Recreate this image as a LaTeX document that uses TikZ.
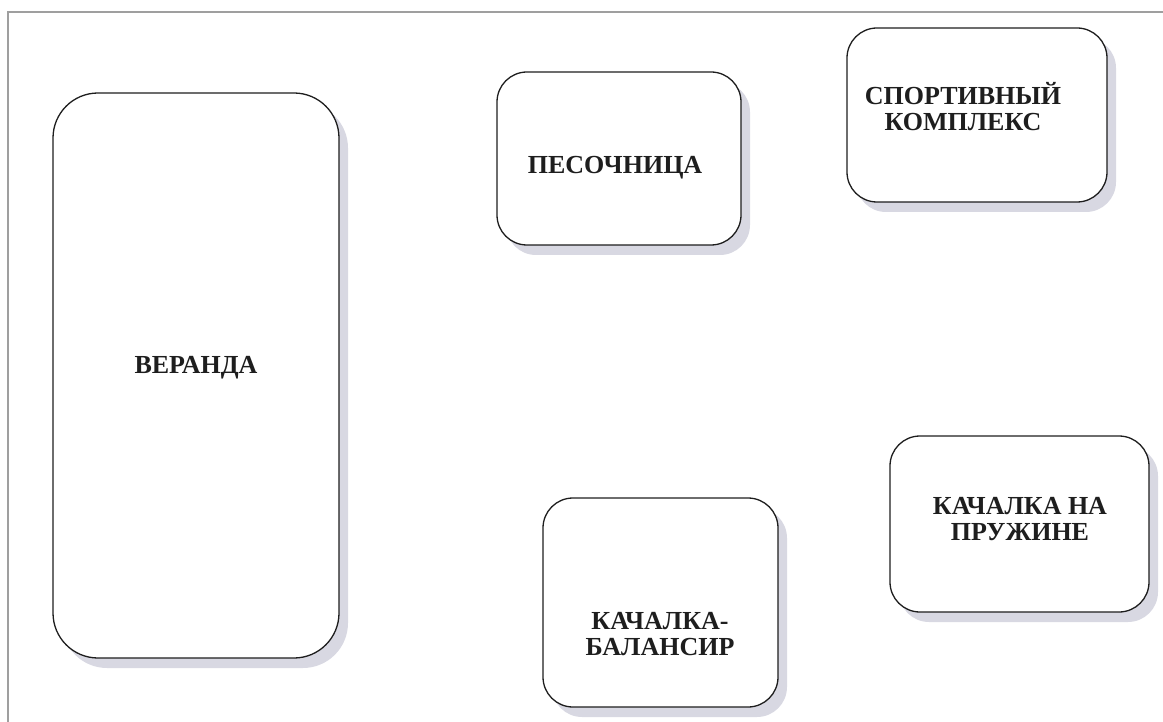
\documentclass[tikz,border=0pt]{standalone}
\usepackage{fontspec}
\setmainfont{Liberation Serif}
\usetikzlibrary{shadows}
\definecolor{shade}{RGB}{216,216,226}
\definecolor{ink}{RGB}{30,30,30}
\tikzstyle{zone}=[draw=ink,line width=1.3pt,fill=white,rounded corners=30pt,
  drop shadow={shadow xshift=9pt,shadow yshift=-10pt,fill=shade,opacity=1}]
\tikzstyle{every node}=[font=\fontsize{26}{26}\selectfont\bfseries,text=ink,align=center]
\tikzstyle{frame}=[line width=2pt,draw=gray!75]

\begin{document}
\begin{tikzpicture}[x=1pt,y=-1pt]
    \useasboundingbox (0,0) rectangle (1163,722);
    \draw[frame] (8,740) |- (1180,12);
    % areas
    \node[zone,rounded corners=45pt,minimum width=286pt,minimum height=565pt] (veranda) at (196,375.5) {};
    \node[zone,minimum width=244pt,minimum height=173pt] (sandbox) at (619,158.5) {};
    \node[zone,minimum width=260pt,minimum height=174pt] (sport) at (977,115) {};
    \node[zone,minimum width=235pt,minimum height=209pt] (balance) at (660.5,602.5) {};
    \node[zone,minimum width=259pt,minimum height=176pt] (spring) at (1019.5,524) {};
    % labels
    \node (verandatext) at (196,368) {ВЕРАНДА};
    \node (sandboxtext) at (615,168) {ПЕСОЧНИЦА};
    \node (sporttext) at (963,107) {СПОРТИВНЫЙ\\КОМПЛЕКС};
    \node (balancetext) at (660,634) {КАЧАЛКА-\\БАЛАНСИР};
    \node (springtext) at (1020,519) {КАЧАЛКА НА\\ПРУЖИНЕ};
\end{tikzpicture}
\end{document}
